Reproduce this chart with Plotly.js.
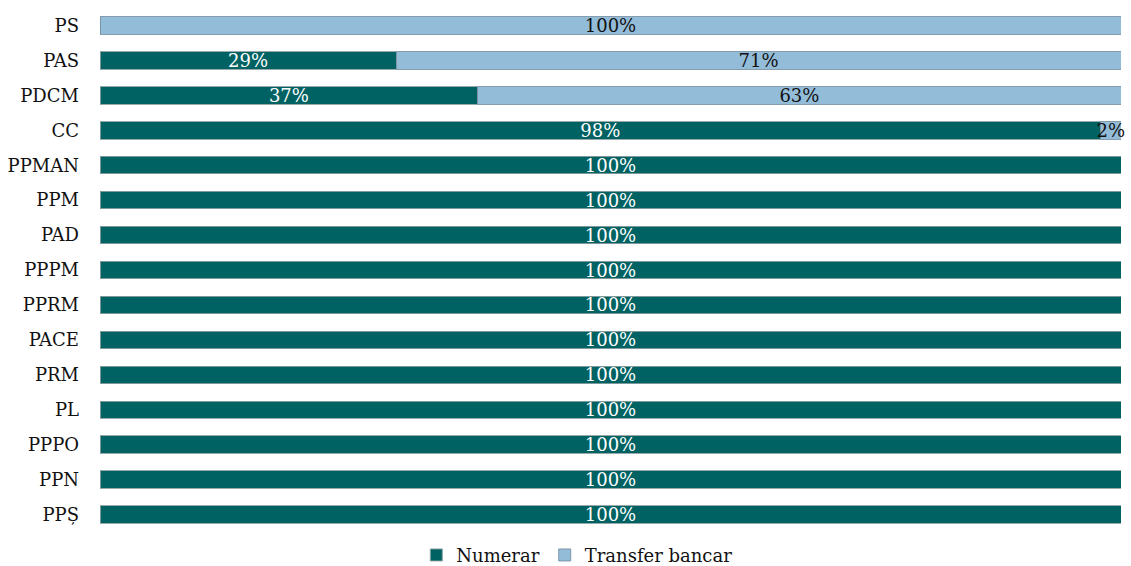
<!DOCTYPE html>
<html>
<head>
<meta charset="utf-8">
<script src="https://cdn.plot.ly/plotly-3.0.1.min.js"></script>
<style>html,body{margin:0;padding:0;background:#fff;}#chart{width:1131px;height:566px;}</style>
</head>
<body>
<div id="chart"></div>
<script>
const categories = ["PS","PAS","PDCM","CC","PPMAN","PPM","PAD","PPPM","PPRM","PACE","PRM","PL","PPPO","PPN","PPȘ"];
const numerar = [0,29,37,98,100,100,100,100,100,100,100,100,100,100,100];
const transfer = [100,71,63,2,0,0,0,0,0,0,0,0,0,0,0];
const seriesNames = ["Numerar","Transfer bancar"];

const fontFam = "'DejaVu Serif', 'Liberation Serif', serif";
function labels(arr){ return arr.map(v => v > 0 ? v + "%" : ""); }

const common = {
  type: "bar", orientation: "h", y: categories,
  textposition: "inside", insidetextanchor: "middle",
  textangle: 0, constraintext: "none", cliponaxis: false,
  hoverinfo: "none"
};

const traces = [
  Object.assign({}, common, {
    name: seriesNames[0], x: numerar, text: labels(numerar),
    marker: {color: "#006262", line: {color: "rgba(140,160,160,0.9)", width: 1}},
    textfont: {family: fontFam, size: 18, color: "#ffffff"}
  }),
  Object.assign({}, common, {
    name: seriesNames[1], x: transfer, text: labels(transfer),
    marker: {color: "#93BCD8", line: {color: "rgba(120,145,165,0.9)", width: 1}},
    textfont: {family: fontFam, size: 18, color: "#111111"}
  })
];

const layout = {
  width: 1131, height: 566,
  barmode: "stack", bargap: 0.5,
  margin: {l: 100, r: 10, t: 8, b: 34, autoexpand: false},
  paper_bgcolor: "#ffffff", plot_bgcolor: "#ffffff",
  font: {family: fontFam, size: 18, color: "#111111"},
  xaxis: {range: [0, 100], showgrid: false, zeroline: false, showticklabels: false, showline: false, fixedrange: true},
  yaxis: {autorange: "reversed", showgrid: false, zeroline: false, showline: false, ticks: "", ticklabelstandoff: 20,
          tickfont: {family: fontFam, size: 18, color: "#111111"}},
  showlegend: true,
  legend: {orientation: "h", traceorder: "normal", x: 0.51, xref: "container", xanchor: "center",
           y: 0.019, yref: "container", yanchor: "middle",
           font: {family: fontFam, size: 18, color: "#111111"}, itemwidth: 30, tracegroupgap: 0}
};

Plotly.newPlot("chart", traces, layout, {displayModeBar: false, staticPlot: true});
</script>
</body>
</html>
